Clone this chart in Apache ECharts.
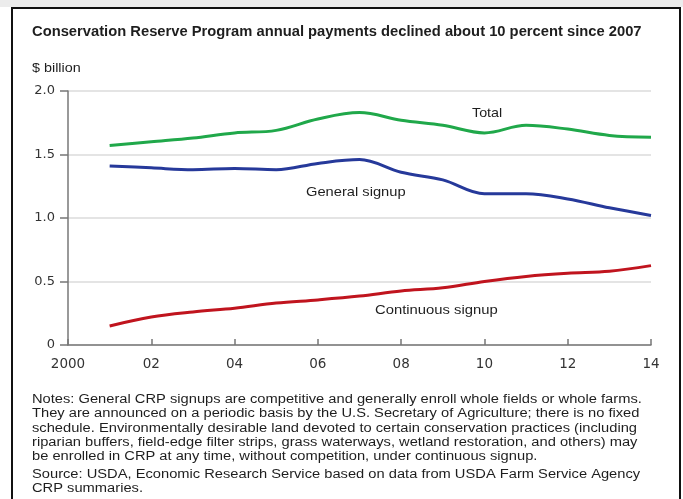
<!DOCTYPE html>
<html>
<head>
<meta charset="utf-8">
<script src="https://cdn.jsdelivr.net/npm/echarts@6/dist/echarts.min.js"></script>
<style>
html,body{margin:0;padding:0;background:#fff;}
#c{width:683px;height:499px;}
</style>
</head>
<body>
<div id="c"></div>
<script>
var years = [2001,2002,2003,2004,2005,2006,2007,2008,2009,2010,2011,2012,2013,2014];
var total = [1.57,1.60,1.63,1.67,1.69,1.78,1.83,1.77,1.73,1.67,1.73,1.70,1.65,1.635];
var general = [1.41,1.395,1.38,1.39,1.38,1.43,1.46,1.36,1.30,1.19,1.19,1.15,1.08,1.02];
var continuous = [0.15,0.22,0.26,0.29,0.33,0.355,0.385,0.425,0.45,0.50,0.54,0.565,0.58,0.625];
var xTicks = [2000,2002,2004,2006,2008,2010,2012,2014];
var xTickLabels = ['2000','02','04','06','08','10','12','14'];
var yTickLabels = {0:'0',0.5:'0.5',1:'1.0',1.5:'1.5',2:'2.0'};
var title = 'Conservation Reserve Program annual payments declined about 10 percent since 2007';
var unitLabel = '$ billion';
var seriesNames = ['Total','General signup','Continuous signup'];
var notes = [
 'Notes: General CRP signups are competitive and generally enroll whole fields or whole farms.',
 'They are announced on a periodic basis by the U.S. Secretary of Agriculture; there is no fixed',
 'schedule. Environmentally desirable land devoted to certain conservation practices (including',
 'riparian buffers, field-edge filter strips, grass waterways, wetland restoration, and others) may',
 'be enrolled in CRP at any time, without competition, under continuous signup.'
];
var source = ['Source: USDA, Economic Research Service based on data from USDA Farm Service Agency','CRP summaries.'];

function pairs(vals){ return years.map(function(y,i){return [y, vals[i]];}); }
var font = 'Liberation Sans, Arial, Helvetica, sans-serif';
var axisFont = 'DejaVu Sans, sans-serif';
function txt(x, y, text, f, sx){
  return {type:'text', x:x, y:y, scaleX:sx, z:10,
    style:{text:text, font:f, fill:'#1e1e1e', align:'left', verticalAlign:'middle'}};
}
var chart = echarts.init(document.getElementById('c'), null, {renderer:'canvas'});
var graphics = [
  {type:'rect', shape:{x:0,y:0,width:683,height:7}, style:{fill:'#ececec'}, z:0},
  {type:'rect', shape:{x:12,y:8,width:668,height:500}, style:{fill:'none',stroke:'#111',lineWidth:2}, z:1},
  txt(32, 32.5, title, 'bold 14px '+font, 1.053),
  txt(32, 68.5, unitLabel, '12.5px '+font, 1.15),
  txt(472, 113, seriesNames[0], '13px '+font, 1.1),
  txt(306, 192, seriesNames[1], '13px '+font, 1.13),
  txt(375, 310, seriesNames[2], '13px '+font, 1.14)
];
notes.forEach(function(t,i){
  graphics.push(txt(32, 399.8 + i*14.2, t, '12.5px '+font, 1.175));
});
source.forEach(function(t,i){
  graphics.push(txt(32, 474.3 + i*13.8, t, '12.5px '+font, 1.175));
});
chart.setOption({
  animation:false,
  backgroundColor:'#fff',
  grid:{left:68, right:32, top:91, bottom:154},
  xAxis:{type:'value', min:2000, max:2014, interval:2,
    axisLine:{show:true, lineStyle:{color:'#777', width:1.5}},
    axisTick:{show:true, inside:true, length:6, lineStyle:{color:'#777', width:1.5}},
    splitLine:{show:false},
    axisLabel:{margin:12, color:'#333', fontSize:13.5, fontFamily:axisFont,
      formatter:function(v){var i=xTicks.indexOf(v);return i>=0?xTickLabels[i]:'';}}
  },
  yAxis:{type:'value', min:0, max:2, interval:0.5,
    axisLine:{show:true, lineStyle:{color:'#777', width:1.5}},
    axisTick:{show:true, length:8, lineStyle:{color:'#777', width:1.5}},
    splitLine:{show:true, lineStyle:{color:'#e4e4e4', width:2}},
    axisLabel:{margin:13, color:'#333', fontSize:13, fontFamily:axisFont,
      formatter:function(v){return yTickLabels[v]!==undefined?yTickLabels[v]:'';}}
  },
  series:[
    {name:seriesNames[0], type:'line', data:pairs(total), smooth:0.35, showSymbol:false, lineStyle:{color:'#20a84a', width:3}},
    {name:seriesNames[1], type:'line', data:pairs(general), smooth:0.35, showSymbol:false, lineStyle:{color:'#26399a', width:3}},
    {name:seriesNames[2], type:'line', data:pairs(continuous), smooth:0.35, showSymbol:false, lineStyle:{color:'#c0141e', width:3}}
  ],
  graphic: graphics
});
</script>
</body>
</html>
